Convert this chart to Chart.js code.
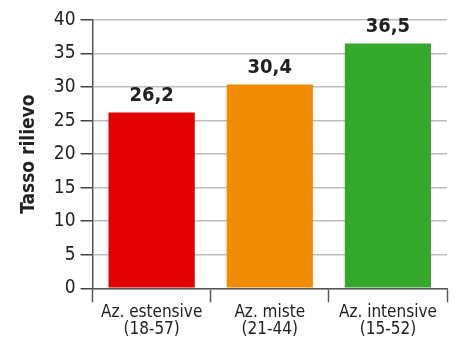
<!DOCTYPE html>
<html>
<head>
<meta charset="utf-8">
<script src="https://cdn.jsdelivr.net/npm/chart.js@4/dist/chart.umd.min.js"></script>
<style>
  html, body { margin: 0; padding: 0; background: #fff; }
  #wrap { width: 454px; height: 340px; }
</style>
</head>
<body>
<div id="wrap"><canvas id="chart" width="454" height="340"></canvas></div>
<script>
// data
const categories = [["Az. estensive", "(18-57)"], ["Az. miste", "(21-44)"], ["Az. intensive", "(15-52)"]];
const values = [26.2, 30.4, 36.5];
const valueLabels = ["26,2", "30,4", "36,5"];
const barColors = ["#e50000", "#f08c00", "#35a82c"];
const yTitle = "Tasso rilievo";

const FONT = "'Liberation Sans Narrow', 'DejaVu Sans Condensed', sans-serif";

// draw the value above each bar
const valueLabelPlugin = {
  id: "valueLabels",
  afterDatasetsDraw(chart) {
    const ctx = chart.ctx;
    const meta = chart.getDatasetMeta(0);
    ctx.save();
    ctx.font = "bold 20px " + FONT;
    ctx.fillStyle = "#222";
    ctx.textAlign = "center";
    ctx.textBaseline = "bottom";
    meta.data.forEach((bar, i) => {
      ctx.fillText(valueLabels[i], bar.x, bar.y - 7);
    });
    ctx.restore();
  }
};

new Chart(document.getElementById("chart"), {
  type: "bar",
  data: {
    labels: categories,
    datasets: [{
      data: values,
      backgroundColor: barColors,
      borderWidth: 0,
      categoryPercentage: 1,
      barPercentage: 0.73
    }]
  },
  options: {
    responsive: false,
    animation: false,
    layout: { padding: { top: 20, right: 7, left: 18, bottom: 0 } },
    plugins: {
      legend: { display: false },
      tooltip: { enabled: false }
    },
    scales: {
      x: {
        offset: true,
        grid: {
          offset: true,
          drawOnChartArea: false,
          tickLength: 14,
          tickColor: "#555",
          tickWidth: 1.5
        },
        border: { color: "#555", width: 1.5 },
        ticks: {
          color: "#222",
          font: { family: FONT, size: 17, lineHeight: 1.05 },
          padding: 1,
          maxRotation: 0
        }
      },
      y: {
        min: 0,
        max: 40,
        ticks: {
          stepSize: 5,
          color: "#222",
          font: { family: FONT, size: 19 },
          padding: 5
        },
        grid: {
          color: "#bdbdbd",
          lineWidth: 1.5,
          tickLength: 12,
          tickColor: "#444",
          tickWidth: 1.5
        },
        border: { color: "#555", width: 1.5 },
        title: {
          display: true,
          text: yTitle,
          color: "#222",
          font: { family: FONT, size: 19, weight: "bold" },
          padding: { top: 0, bottom: 8 }
        }
      }
    }
  },
  plugins: [valueLabelPlugin]
});
</script>
</body>
</html>
